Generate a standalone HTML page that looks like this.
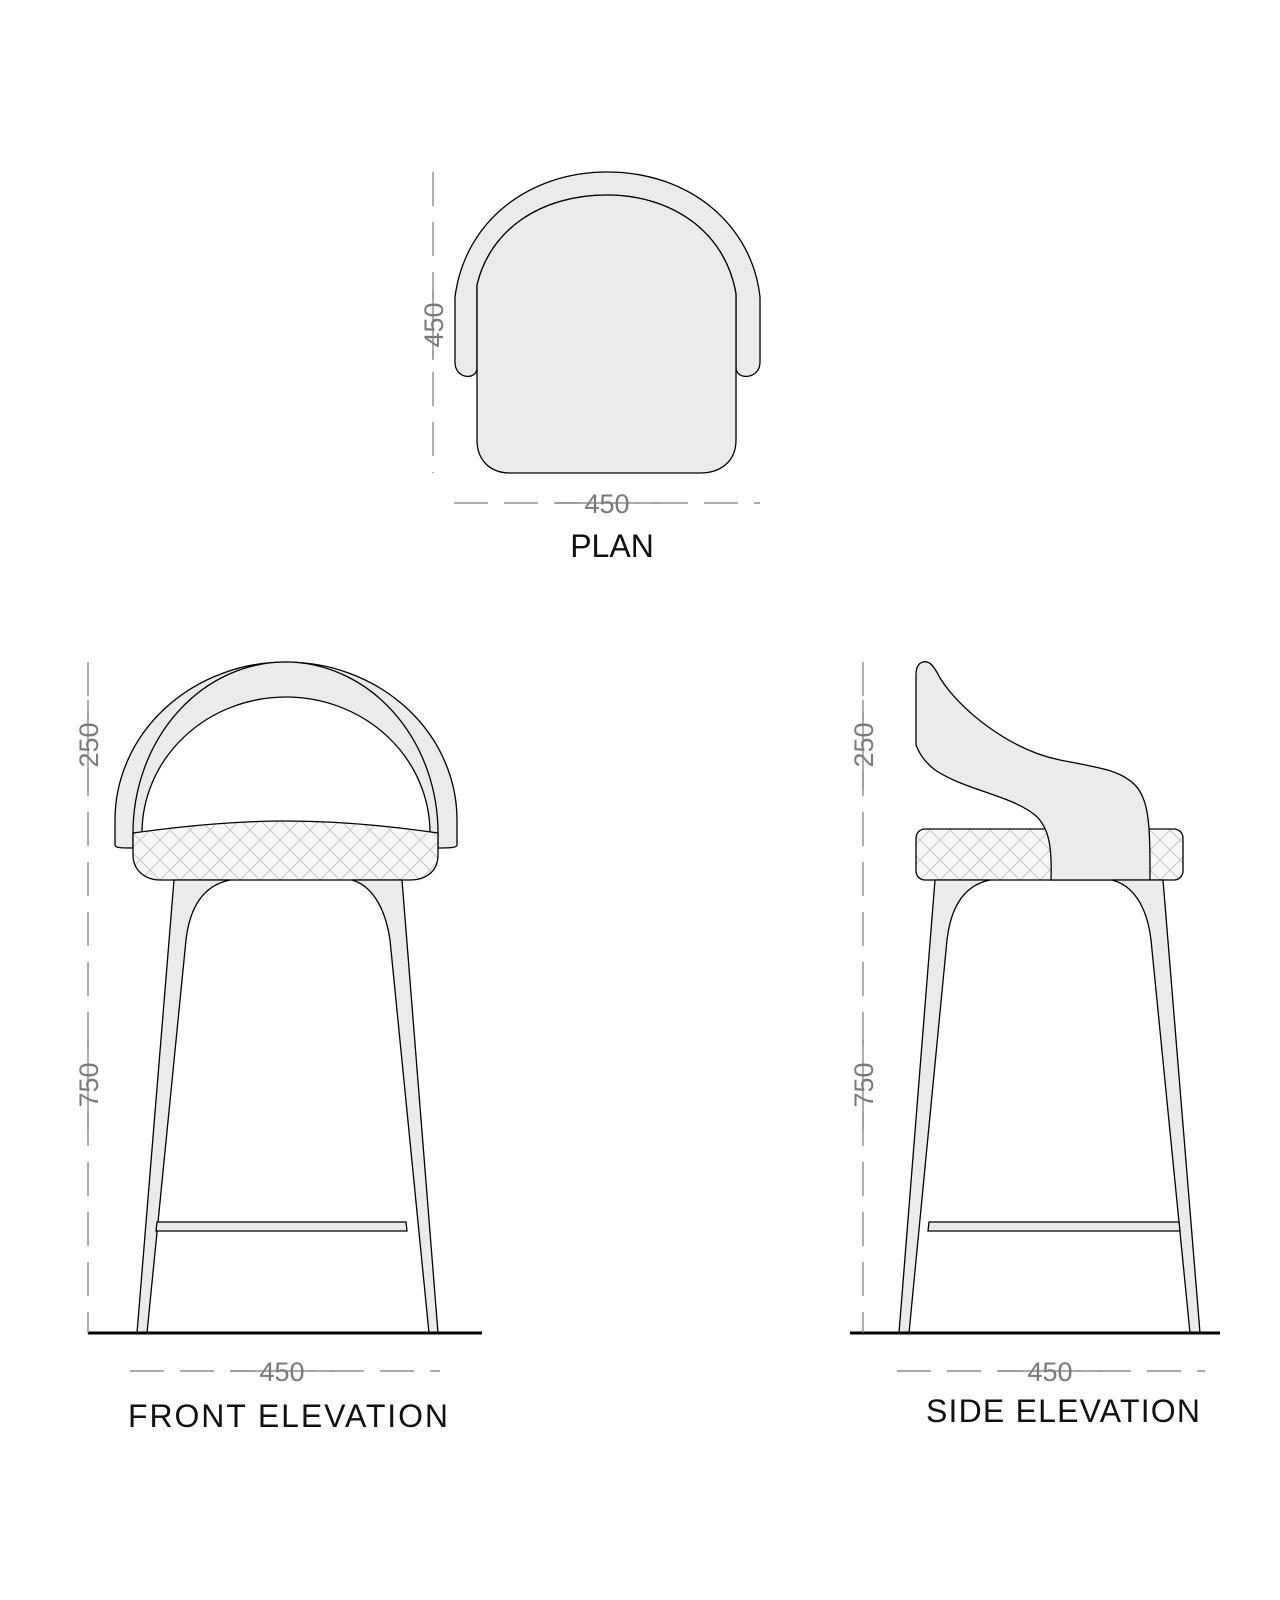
<!DOCTYPE html>
<html><head><meta charset="utf-8"><style>
html,body{margin:0;padding:0;background:#fff;}
svg{display:block;}
.dim{font-family:"Liberation Sans",sans-serif;font-size:27px;fill:#7a7a7a;}
.lbl{font-family:"Liberation Sans",sans-serif;font-size:32px;fill:#111;}
</style></head><body>
<svg width="1280" height="1600" viewBox="0 0 1280 1600" xmlns="http://www.w3.org/2000/svg">
<defs>
<pattern id="h" width="20" height="20" patternUnits="userSpaceOnUse">
<rect width="20" height="20" fill="#f7f7f7"/>
<path d="M0 0L20 20M20 0L0 20" stroke="#c8c8c8" stroke-width="1"/>
</pattern>
</defs>
<g stroke="#000" stroke-width="1.3" fill="#ebebeb">
<!-- PLAN -->
<path d="M455 297 C465 220 530 172 607 172 C690 172 752 225 760 297 L760 362 C760 380 736 380 736 368 L736 294 C725 230 670 195 607 195 C540 195 490 230 477 285 L477 368 C477 380 455 380 455 362 Z"/>
<path d="M477 285 C490 230 540 195 607 195 C670 195 725 230 736 294 L736 440 C736 462 720 473 700 473 L510 473 C490 473 477 460 477 440 Z"/>

<!-- FRONT back -->
<path d="M115 845 L115 820 A171 158 0 0 1 457 820 L457 845 C457 848 448 848 438 848 L133 848 C122 848 115 848 115 845 Z"/>
<path d="M133 848 L133 833 A152.5 171 0 0 1 438 833 L438 848 Z"/>
<path d="M142 833 A144 136 0 0 1 430 833 Z" fill="#fff"/>
<!-- front seat -->
<path d="M133 833 C190 825 240 821 286 821 C340 821 390 826 438 833 L438 855 C438 872 425 880 410 880 L160 880 C145 880 133 870 133 855 Z" fill="url(#h)"/>
<!-- front legs -->
<path d="M174 880 L137 1333 L147 1333 L186 940 C190 905 205 885 230 880 Z"/>
<path d="M402 880 L438 1333 L429 1333 L390 940 C385 905 370 885 352 880 Z"/>
<path d="M157 1222 L406 1222 L407 1231 L156 1231 Z"/>

<!-- SIDE back & seat -->
<rect x="916" y="829" width="267" height="51" rx="9" fill="url(#h)"/>
<path d="M923 662 C930 660 935 668 940 678 C960 710 1010 750 1060 760 C1100 768 1120 770 1135 785 C1150 800 1150 830 1150 880 L1051 880 C1052 850 1050 828 1035 815 C1010 795 965 790 935 770 C925 762 920 755 916 745 L916 675 C916 667 919 663 923 662 Z"/>
<path d="M935 880 L899 1333 L909 1333 L947 940 C951 905 965 885 990 880 Z"/>
<path d="M1163 880 L1200 1333 L1190 1333 L1151 940 C1147 905 1132 885 1112 880 Z"/>
<path d="M929 1222 L1179 1222 L1180 1231 L928 1231 Z"/>
</g>

<!-- floors -->
<line x1="88" y1="1333" x2="482" y2="1333" stroke="#000" stroke-width="3"/>
<line x1="850" y1="1333" x2="1220" y2="1333" stroke="#000" stroke-width="3"/>

<!-- dimension lines -->
<g stroke="#777" stroke-width="1.2" fill="none" stroke-dasharray="34,16">
<line x1="433" y1="172" x2="433" y2="473"/>
<line x1="454" y1="503" x2="760" y2="503"/>
<line x1="88" y1="662" x2="88" y2="1333"/>
<line x1="130" y1="1371" x2="440" y2="1371"/>
<line x1="863" y1="662" x2="863" y2="1333"/>
<line x1="897" y1="1371" x2="1205" y2="1371"/>
</g>
<g fill="#fff">
<rect x="420" y="300" width="26" height="50"/>
<rect x="580" y="490" width="56" height="28"/>
<rect x="75" y="720" width="26" height="50"/>
<rect x="75" y="1060" width="26" height="50"/>
<rect x="254" y="1358" width="56" height="28"/>
<rect x="850" y="720" width="26" height="50"/>
<rect x="850" y="1060" width="26" height="50"/>
<rect x="1022" y="1358" width="56" height="28"/>
</g>
<g stroke="#777" stroke-width="1.2">
<line x1="433" y1="290" x2="433" y2="360"/>
<line x1="556" y1="503" x2="658" y2="503"/>
<line x1="88" y1="700" x2="88" y2="790"/>
<line x1="88" y1="1040" x2="88" y2="1130"/>
<line x1="230" y1="1371" x2="334" y2="1371"/>
<line x1="863" y1="700" x2="863" y2="790"/>
<line x1="863" y1="1040" x2="863" y2="1130"/>
<line x1="998" y1="1371" x2="1102" y2="1371"/>
</g>
<text class="dim" transform="translate(443 325) rotate(-90)" text-anchor="middle">450</text>
<text class="dim" x="607" y="513" text-anchor="middle">450</text>
<text class="dim" transform="translate(98 745) rotate(-90)" text-anchor="middle">250</text>
<text class="dim" transform="translate(98 1085) rotate(-90)" text-anchor="middle">750</text>
<text class="dim" x="282" y="1381" text-anchor="middle">450</text>
<text class="dim" transform="translate(873 745) rotate(-90)" text-anchor="middle">250</text>
<text class="dim" transform="translate(873 1085) rotate(-90)" text-anchor="middle">750</text>
<text class="dim" x="1050" y="1381" text-anchor="middle">450</text>

<text class="lbl" x="612" y="557" text-anchor="middle">PLAN</text>
<text class="lbl" x="288" y="1427" text-anchor="middle" textLength="320">FRONT ELEVATION</text>
<text class="lbl" x="1063" y="1422" text-anchor="middle" textLength="274">SIDE ELEVATION</text>
</svg>
</body></html>
